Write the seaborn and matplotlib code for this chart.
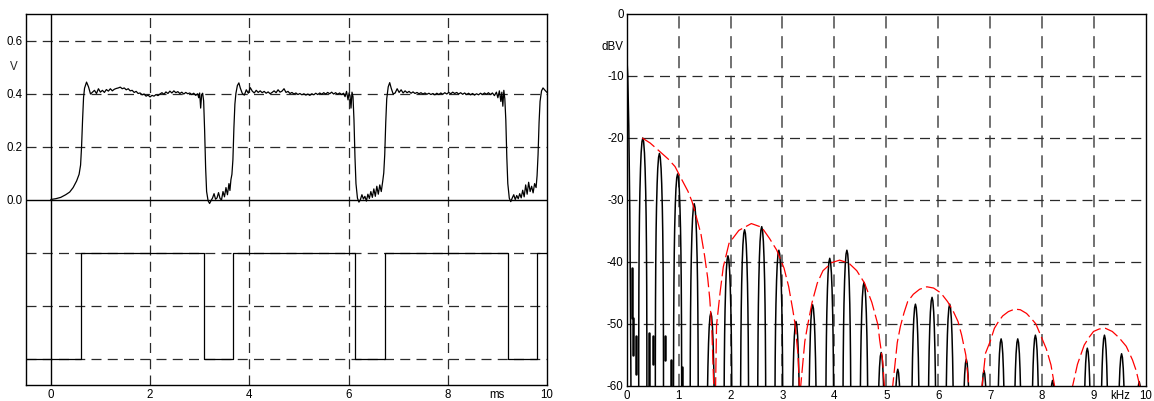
import numpy as np
import pandas as pd
import matplotlib
matplotlib.use("Agg")
import matplotlib.pyplot as plt
import seaborn as sns

trace_p1 = [
    (0.00, 0.000), (0.10, 0.003), (0.20, 0.008), (0.30, 0.018), (0.38, 0.028),
    (0.45, 0.045), (0.52, 0.070), (0.57, 0.095), (0.60, 0.130), (0.62, 0.200),
    (0.64, 0.300), (0.66, 0.385), (0.68, 0.420), (0.72, 0.443), (0.76, 0.425),
    (0.80, 0.398), (0.84, 0.405), (0.88, 0.412), (0.92, 0.400), (0.96, 0.418),
    (1.00, 0.405), (1.04, 0.412), (1.08, 0.404), (1.12, 0.415), (1.16, 0.409),
    (1.20, 0.418), (1.24, 0.410), (1.28, 0.416), (1.32, 0.419), (1.36, 0.421),
    (1.40, 0.424), (1.44, 0.418), (1.48, 0.421), (1.52, 0.414), (1.56, 0.418),
    (1.60, 0.410), (1.64, 0.412), (1.68, 0.404), (1.72, 0.408), (1.76, 0.400),
    (1.80, 0.402), (1.84, 0.395), (1.88, 0.398), (1.92, 0.390), (1.96, 0.394),
    (2.00, 0.387), (2.04, 0.393), (2.08, 0.390), (2.12, 0.396), (2.16, 0.392),
    (2.20, 0.398), (2.24, 0.403), (2.28, 0.397), (2.32, 0.406), (2.36, 0.400),
    (2.40, 0.409), (2.44, 0.402), (2.48, 0.410), (2.52, 0.403), (2.56, 0.407),
    (2.60, 0.400), (2.64, 0.405), (2.68, 0.398), (2.72, 0.404), (2.76, 0.399),
    (2.80, 0.402), (2.84, 0.396), (2.88, 0.401), (2.92, 0.393), (2.96, 0.399),
    (2.98, 0.384), (3.00, 0.402), (3.02, 0.345), (3.04, 0.396), (3.06, 0.401),
    (3.08, 0.372), (3.10, 0.260), (3.12, 0.120), (3.14, 0.030), (3.17, -0.005),
    (3.20, -0.015), (3.23, -0.004), (3.26, 0.006), (3.29, 0.022), (3.32, 0.001),
    (3.35, 0.006), (3.38, 0.026), (3.41, 0.004), (3.44, -0.002), (3.47, 0.030),
    (3.50, 0.010), (3.53, 0.045), (3.56, 0.018), (3.59, 0.060), (3.61, 0.034),
    (3.63, 0.075), (3.65, 0.095), (3.67, 0.150), (3.69, 0.270), (3.71, 0.360),
    (3.73, 0.400), (3.76, 0.430), (3.79, 0.440),
]
trace_p2 = [
    (3.82, 0.420), (3.86, 0.400), (3.90, 0.394), (3.94, 0.414), (3.98, 0.401),
    (4.02, 0.422), (4.06, 0.409), (4.10, 0.402), (4.14, 0.412), (4.18, 0.404),
    (4.22, 0.410), (4.26, 0.403), (4.30, 0.408), (4.34, 0.401), (4.38, 0.406),
    (4.42, 0.399), (4.46, 0.404), (4.50, 0.410), (4.54, 0.403), (4.58, 0.414),
    (4.62, 0.405), (4.66, 0.409), (4.70, 0.418), (4.74, 0.404), (4.78, 0.408),
    (4.82, 0.400), (4.86, 0.404), (4.90, 0.398), (4.94, 0.402), (4.98, 0.396),
    (5.02, 0.400), (5.06, 0.395), (5.10, 0.399), (5.14, 0.394), (5.18, 0.398),
    (5.22, 0.393), (5.26, 0.399), (5.30, 0.395), (5.34, 0.401), (5.38, 0.396),
    (5.42, 0.402), (5.46, 0.397), (5.50, 0.403), (5.54, 0.398), (5.58, 0.404),
    (5.62, 0.399), (5.66, 0.405), (5.70, 0.398), (5.74, 0.403), (5.78, 0.397),
    (5.82, 0.402), (5.86, 0.396), (5.90, 0.401), (5.93, 0.388), (5.96, 0.408),
    (5.99, 0.376), (6.01, 0.402), (6.03, 0.392), (6.05, 0.345), (6.07, 0.405),
    (6.09, 0.388), (6.11, 0.300), (6.13, 0.160), (6.15, 0.060), (6.18, 0.005),
    (6.21, -0.010), (6.24, 0.000), (6.27, 0.018), (6.30, 0.002), (6.33, 0.012),
    (6.36, -0.006), (6.39, 0.020), (6.42, 0.004), (6.45, 0.030), (6.48, 0.008),
    (6.51, 0.040), (6.54, 0.012), (6.57, 0.050), (6.60, 0.020), (6.63, 0.055),
    (6.66, 0.030), (6.69, 0.070), (6.71, 0.100), (6.73, 0.170), (6.75, 0.290),
    (6.77, 0.380), (6.80, 0.425), (6.83, 0.441),
]
trace_p3 = [
    (6.86, 0.420), (6.90, 0.398), (6.94, 0.402), (6.98, 0.418), (7.02, 0.404),
    (7.06, 0.414), (7.10, 0.402), (7.14, 0.410), (7.18, 0.403), (7.22, 0.408),
    (7.26, 0.401), (7.30, 0.406), (7.34, 0.400), (7.38, 0.404), (7.42, 0.399),
    (7.46, 0.403), (7.50, 0.398), (7.54, 0.402), (7.58, 0.397), (7.62, 0.401),
    (7.66, 0.396), (7.70, 0.400), (7.74, 0.395), (7.78, 0.401), (7.82, 0.396),
    (7.86, 0.402), (7.90, 0.397), (7.94, 0.403), (7.98, 0.398), (8.02, 0.404),
    (8.06, 0.399), (8.10, 0.405), (8.14, 0.400), (8.18, 0.404), (8.22, 0.398),
    (8.26, 0.403), (8.30, 0.397), (8.34, 0.402), (8.38, 0.396), (8.42, 0.401),
    (8.46, 0.395), (8.50, 0.400), (8.54, 0.394), (8.58, 0.399), (8.62, 0.395),
    (8.66, 0.401), (8.70, 0.396), (8.74, 0.402), (8.78, 0.397), (8.82, 0.403),
    (8.86, 0.396), (8.90, 0.402), (8.94, 0.392), (8.98, 0.405), (9.01, 0.384),
    (9.04, 0.410), (9.07, 0.370), (9.09, 0.405), (9.11, 0.352), (9.13, 0.412),
    (9.15, 0.380), (9.17, 0.300), (9.19, 0.160), (9.21, 0.060), (9.24, 0.005),
    (9.27, -0.008), (9.30, 0.006), (9.33, 0.018), (9.36, 0.000), (9.39, 0.015),
    (9.42, 0.003), (9.45, 0.022), (9.48, 0.006), (9.51, 0.035), (9.54, 0.010),
    (9.57, 0.055), (9.60, 0.020), (9.63, 0.065), (9.66, 0.030), (9.69, 0.050),
    (9.72, 0.025), (9.75, 0.060), (9.78, 0.045), (9.80, 0.090), (9.82, 0.170),
    (9.84, 0.290), (9.86, 0.370), (9.89, 0.410), (9.92, 0.421), (9.96, 0.412),
    (10.00, 0.404),
]

# logic input under the trace: edge times (ms) and levels
bit_edges_ms = [-0.5, 0.6, 3.08, 3.68, 6.14, 6.74, 9.22, 9.80, 10.0]
bit_levels = [-0.6, -0.2, -0.6, -0.2, -0.6, -0.2, -0.6, -0.2, -0.2]

# spectrum lines (kHz, dBV)
peak_khz = [0.31, 0.63, 0.98, 1.30, 1.62, 1.95, 2.27, 2.60, 2.93, 3.26,
            3.58, 3.91, 4.24, 4.57, 4.90, 5.22, 5.56, 5.88, 6.22, 6.54,
            6.88, 7.21, 7.53, 7.87, 8.20, 8.87, 9.20, 9.53, 9.87]
peak_dbv = [-20.0, -22.5, -25.8, -30.6, -48.2, -39.0, -34.8, -34.3, -38.1, -49.6,
            -46.9, -39.4, -38.1, -43.3, -54.6, -57.3, -46.8, -45.7, -46.8, -55.7,
            -57.5, -52.4, -52.4, -51.8, -59.1, -53.9, -51.8, -54.8, -59.3]

# DC line, falling off the left edge
dc_khz = [0.0, 0.02, 0.04, 0.06, 0.075, 0.085]
dc_dbv = [-6.3, -10.0, -18.0, -32.0, -50.0, -65.0]

# short leakage strokes near DC: frequency, top, bottom
leak_khz = [0.10, 0.13, 0.18, 0.42, 0.51, 0.74, 0.85, 1.06]
leak_top = [-41.0, -49.0, -52.0, -51.5, -52.0, -52.0, -55.8, -57.0]
leak_bot = [-49.0, -55.0, -58.0, -60.0, -56.5, -55.8, -60.0, -60.0]

# red envelope, one list per lobe
env0_khz = [0.30, 0.45, 0.64, 0.80, 0.93, 1.06, 1.18, 1.26, 1.35, 1.43, 1.50, 1.56, 1.60, 1.64, 1.68]
env0_dbv = [-20.0, -20.8, -22.2, -23.4, -24.6, -26.7, -28.6, -30.3, -33.0, -35.5, -39.0, -42.6, -46.0, -51.0, -61.0]
env1_khz = [1.71, 1.73, 1.80, 1.86, 1.97, 2.16, 2.40, 2.60, 2.75, 2.89, 3.03, 3.12, 3.20, 3.24, 3.30, 3.33]
env1_dbv = [-61.0, -50.2, -44.8, -40.8, -37.0, -34.9, -33.8, -34.4, -36.2, -38.1, -41.0, -44.0, -47.8, -49.9, -55.0, -61.0]
env2_khz = [3.34, 3.43, 3.48, 3.57, 3.67, 3.78, 3.95, 4.10, 4.28, 4.43, 4.58, 4.72, 4.84, 4.87, 4.93, 4.97]
env2_dbv = [-61.0, -52.8, -50.4, -46.5, -43.4, -41.4, -40.1, -39.7, -40.2, -41.4, -43.4, -46.5, -50.2, -52.5, -56.0, -61.0]
env3_khz = [5.11, 5.21, 5.27, 5.34, 5.41, 5.52, 5.64, 5.78, 5.91, 6.05, 6.18, 6.28, 6.38, 6.45, 6.53, 6.60]
env3_dbv = [-61.0, -53.0, -50.4, -48.2, -46.4, -45.2, -44.4, -44.0, -44.2, -45.0, -46.4, -47.8, -49.6, -51.8, -55.0, -61.0]
env4_khz = [6.83, 6.91, 7.00, 7.08, 7.16, 7.24, 7.35, 7.47, 7.58, 7.70, 7.80, 7.88, 7.98, 8.08, 8.17, 8.26]
env4_dbv = [-61.0, -54.7, -52.8, -50.7, -49.6, -48.7, -48.0, -47.6, -47.7, -48.3, -49.2, -50.0, -52.0, -54.0, -56.6, -61.0]
env5_khz = [8.56, 8.68, 8.81, 8.90, 8.99, 9.10, 9.22, 9.35, 9.48, 9.62, 9.74, 9.81, 9.87, 9.90]
env5_dbv = [-61.0, -56.5, -53.4, -52.2, -51.2, -50.8, -50.7, -51.2, -52.2, -53.6, -55.8, -57.5, -59.6, -61.0]

# shape of one spectral line: offset in half-widths, drop in dB below its top
LOBE_HALF = 0.08
LOBE_U = [-1.0, -0.98, -0.94, -0.88, -0.8, -0.7, -0.55, -0.4, -0.2, 0.0,
          0.2, 0.4, 0.55, 0.7, 0.8, 0.88, 0.94, 0.98, 1.0]
LOBE_DROP = [80, 33.8, 23.9, 17.5, 12.6, 8.7, 4.9, 2.4, 0.6, 0,
             0.6, 2.4, 4.9, 8.7, 12.6, 17.5, 23.9, 33.8, 80]

GRID_KW = dict(color="#2a2a2a", linewidth=0.9, linestyle=(0, (8, 5)))


def main():
    sns.set_style("white")
    plt.rcParams["font.family"] = ["Liberation Sans", "DejaVu Sans"]
    plt.rcParams["axes.edgecolor"] = "black"
    plt.rcParams["axes.linewidth"] = 1.0

    fig = plt.figure(figsize=(11.54, 4.01), dpi=100)
    ax1 = fig.add_axes([26 / 1154, 16 / 401, 521 / 1154, 371 / 401])
    ax2 = fig.add_axes([626.7 / 1154, 15 / 401, 519.3 / 1154, 372 / 401])
    for ax in (ax1, ax2):
        # grid sits on minor ticks that share spots with labelled ticks
        ax.xaxis.remove_overlapping_locs = False
        ax.yaxis.remove_overlapping_locs = False

    # --- time domain ---
    trace = pd.DataFrame(trace_p1 + trace_p2 + trace_p3, columns=["ms", "v"])
    ax1.axvline(0, color="black", lw=1.0, zorder=2)
    ax1.axhline(0, color="black", lw=1.0, zorder=2)
    sns.lineplot(data=trace, x="ms", y="v", estimator=None, sort=False,
                 color="black", lw=0.9, ax=ax1)
    sns.lineplot(x=bit_edges_ms, y=bit_levels, estimator=None, sort=False,
                 drawstyle="steps-post", color="black", lw=0.9, ax=ax1)

    ax1.set_xlim(-0.5, 10)
    ax1.set_ylim(-0.7, 0.7)
    ax1.set_xticks([0, 2, 4, 6, 8, 9, 10])
    ax1.set_xticklabels(["0", "2", "4", "6", "8", "ms", "10"])
    ax1.set_yticks([0, 0.2, 0.4, 0.6])
    ax1.set_yticklabels(["0.0", "0.2", "0.4", "0.6"])
    ax1.set_xticks([2, 4, 6, 8], minor=True)
    ax1.set_yticks([-0.6, -0.4, -0.2, 0.2, 0.4, 0.6], minor=True)
    ax1.grid(False)
    ax1.grid(which="minor", **GRID_KW)
    ax1.text(-0.023, 0.5, "V", transform=ax1.get_yaxis_transform(),
             ha="center", va="center", fontsize=8.3)

    # --- spectrum ---
    rows = []
    for i, (f, d) in enumerate(zip(peak_khz, peak_dbv)):
        for u, dr in zip(LOBE_U, LOBE_DROP):
            rows.append((i, f + u * LOBE_HALF, d - dr))
    spec = pd.DataFrame(rows, columns=["peak", "khz", "dbv"])

    leak_rows = []
    for i, (f, top, bot) in enumerate(zip(leak_khz, leak_top, leak_bot)):
        leak_rows.append((i, f, top))
        leak_rows.append((i, f, bot))
    leak = pd.DataFrame(leak_rows, columns=["seg", "khz", "dbv"])

    env_parts = [(env0_khz, env0_dbv), (env1_khz, env1_dbv), (env2_khz, env2_dbv),
                 (env3_khz, env3_dbv), (env4_khz, env4_dbv), (env5_khz, env5_dbv)]
    env = pd.concat([pd.DataFrame({"lobe": k, "khz": f, "dbv": d})
                     for k, (f, d) in enumerate(env_parts)], ignore_index=True)

    sns.lineplot(x=dc_khz, y=dc_dbv, estimator=None, sort=False,
                 color="black", lw=1.1, ax=ax2)
    sns.lineplot(data=spec, x="khz", y="dbv", units="peak", estimator=None,
                 sort=False, color="black", lw=1.1, ax=ax2)
    sns.lineplot(data=leak, x="khz", y="dbv", units="seg", estimator=None,
                 sort=False, color="black", lw=1.8, ax=ax2)
    sns.lineplot(data=env, x="khz", y="dbv", units="lobe", estimator=None,
                 sort=False, color="red", lw=0.9, linestyle=(0, (12, 3.5)), ax=ax2)

    ax2.set_xlim(0, 10)
    ax2.set_ylim(-60, 0)
    ax2.set_xticks([0, 1, 2, 3, 4, 5, 6, 7, 8, 9, 9.5, 10])
    ax2.set_xticklabels(["0", "1", "2", "3", "4", "5", "6", "7", "8", "9", "kHz", "10"])
    ax2.set_yticks([0, -5, -10, -20, -30, -40, -50, -60])
    ax2.set_yticklabels(["0", "dBV", "-10", "-20", "-30", "-40", "-50", "-60"])
    ax2.set_xticks([1, 2, 3, 4, 5, 6, 7, 8, 9], minor=True)
    ax2.set_yticks([-10, -20, -30, -40, -50], minor=True)
    ax2.grid(False)
    ax2.grid(which="minor", axis="y", **GRID_KW)
    ax2.grid(which="minor", axis="x", color="#4a4a4a", linewidth=1.1,
             linestyle=(0, (8, 5)))

    for ax in (ax1, ax2):
        ax.set_xlabel("")
        ax.set_ylabel("")
        ax.tick_params(which="both", length=0, labelsize=8.3, colors="black")
        ax.tick_params(axis="x", pad=3.0)
        ax.tick_params(axis="y", pad=2.2)
        for sp in ax.spines.values():
            sp.set_color("black")
            sp.set_linewidth(1.0)
            sp.set_zorder(3)

    fig.savefig("out.png", dpi=100)


if __name__ == "__main__":
    main()
